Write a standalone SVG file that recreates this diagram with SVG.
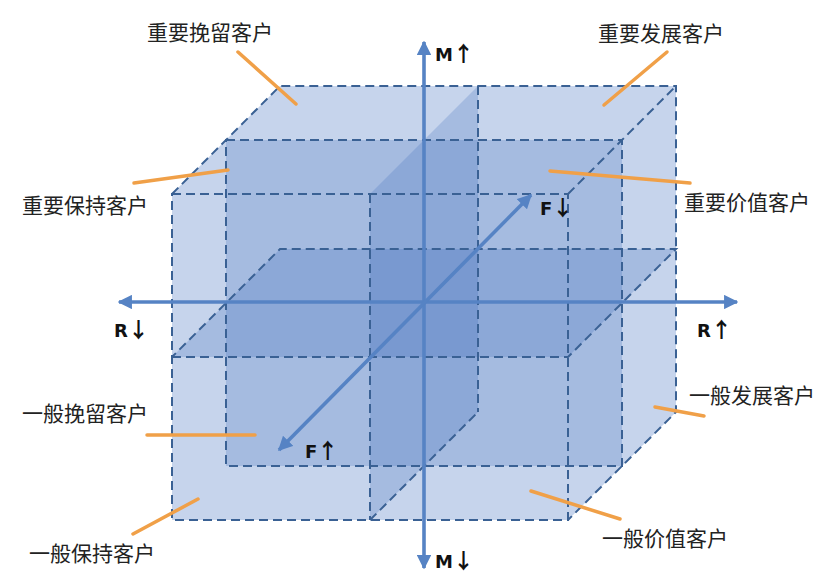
<svg xmlns="http://www.w3.org/2000/svg" width="832" height="582" viewBox="0 0 832 582">
<defs>
<style>
.face{fill:#3a6cbd;fill-opacity:.155;stroke:none}
.plane{fill:#3a6cbd;fill-opacity:.235;stroke:none}
.dash{fill:none;stroke:#3a6194;stroke-width:2;stroke-dasharray:9 5}
.axis{fill:none;stroke:#5683c4;stroke-width:3.6}
.lead{fill:none;stroke:#f0a048;stroke-width:3.5;stroke-linecap:round}
.lbl{font-family:"Noto Sans CJK SC","Noto Sans",sans-serif;font-size:21px;fill:#222}
.ax{font-family:"DejaVu Sans","Liberation Sans",sans-serif;font-weight:bold;font-size:18px;fill:#111}
.arr{font-family:"Noto Sans CJK SC",sans-serif;font-weight:bold;font-size:21px}
</style>
<marker id="ah" viewBox="0 0 10 10" refX="9" refY="5" markerWidth="4" markerHeight="4" orient="auto-start-reverse" markerUnits="strokeWidth">
<path d="M0,0 L10,5 L0,10 z" fill="#5683c4"/>
</marker>
</defs>
<rect width="832" height="582" fill="#ffffff"/>

<g id="cube">
<polygon class="face" points="280,86 676,86 676,412 280,412"/>
<polygon class="face" points="172,194 280,86 280,412 172,520"/>
<polygon class="face" points="172,194 280,86 676,86 568,194"/>
<polygon class="face" points="172,520 280,412 676,412 568,520"/>
<polygon class="face" points="568,194 676,86 676,412 568,520"/>
<polygon class="face" points="172,194 568,194 568,520 172,520"/>
<polygon class="plane" points="172,357 280,249 676,249 568,357"/>
<polygon class="plane" points="370,194 478,86 478,412 370,520"/>
<polygon class="plane" points="226,140 622,140 622,466 226,466"/>
</g>

<g id="edges">
<rect class="dash" x="172" y="194" width="396" height="326"/>
<rect class="dash" x="226" y="140" width="396" height="326"/>
<polyline class="dash" points="172,194 280,86 676,86 676,412 568,520"/>
<line class="dash" x1="568" y1="194" x2="676" y2="86"/>
<line class="dash" x1="370" y1="194" x2="370" y2="520"/>
<line class="dash" x1="478" y1="86" x2="478" y2="412"/>
<line class="dash" x1="370" y1="520" x2="478" y2="412"/>
<polyline class="dash" points="172,357 568,357 676,249 280,249 172,357"/>
</g>

<g id="connectors">
<line class="axis" x1="424" y1="568" x2="424" y2="42" marker-start="url(#ah)" marker-end="url(#ah)"/>
<line class="axis" x1="119" y1="302" x2="737" y2="302" marker-start="url(#ah)" marker-end="url(#ah)"/>
<line class="axis" x1="279" y1="450" x2="531" y2="195" marker-start="url(#ah)" marker-end="url(#ah)"/>
</g>

<g id="axis-labels">
<text class="ax" x="435" y="61">M<tspan class="arr">↑</tspan></text>
<text class="ax" x="435" y="568">M<tspan class="arr">↓</tspan></text>
<text class="ax" x="114" y="337">R<tspan class="arr">↓</tspan></text>
<text class="ax" x="697" y="337">R<tspan class="arr">↑</tspan></text>
<text class="ax" x="540" y="215">F<tspan class="arr">↓</tspan></text>
<text class="ax" x="305" y="458">F<tspan class="arr">↑</tspan></text>
</g>

<g id="n1"><line class="lead" x1="238" y1="52" x2="296" y2="104"/><text class="lbl" x="147" y="40">重要挽留客户</text></g>
<g id="n2"><line class="lead" x1="134" y1="183" x2="228" y2="170"/><text class="lbl" x="22" y="213">重要保持客户</text></g>
<g id="n3"><line class="lead" x1="667" y1="52" x2="604" y2="105"/><text class="lbl" x="598" y="41">重要发展客户</text></g>
<g id="n4"><line class="lead" x1="550" y1="171" x2="690" y2="183"/><text class="lbl" x="684" y="210">重要价值客户</text></g>
<g id="n5"><line class="lead" x1="147" y1="435" x2="255" y2="435"/><text class="lbl" x="22" y="421">一般挽留客户</text></g>
<g id="n6"><line class="lead" x1="133" y1="534" x2="198" y2="499"/><text class="lbl" x="29" y="561">一般保持客户</text></g>
<g id="n7"><line class="lead" x1="655" y1="407" x2="704" y2="416"/><text class="lbl" x="689" y="403">一般发展客户</text></g>
<g id="n8"><line class="lead" x1="531" y1="491" x2="620" y2="519"/><text class="lbl" x="602" y="546">一般价值客户</text></g>
</svg>
